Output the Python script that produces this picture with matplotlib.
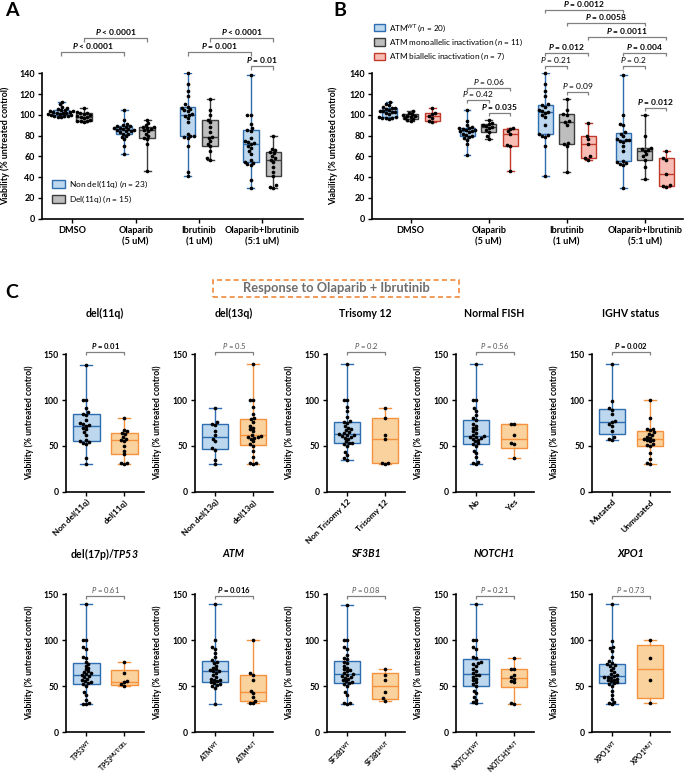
import numpy as np
import matplotlib
matplotlib.use("Agg")
import matplotlib.pyplot as plt
from matplotlib.patches import Patch, Rectangle

plt.rcParams['font.family'] = ['Lato', 'DejaVu Sans']
plt.rcParams['mathtext.fontset'] = 'custom'
plt.rcParams['mathtext.rm'] = 'Lato'
plt.rcParams['mathtext.it'] = 'Lato:italic'
plt.rcParams['mathtext.bf'] = 'Lato:bold'
if 'mathtext.bfit' in plt.rcParams:
    plt.rcParams['mathtext.bfit'] = 'Lato:italic:bold'
BFIT = r'\mathbfit' if 'mathtext.bfit' in plt.rcParams else r'\mathbf'

# ---------------- DATA ----------------
treatments = ['DMSO', 'Olaparib\n(5 uM)', 'Ibrutinib\n(1 uM)', 'Olaparib+Ibrutinib\n(5:1 uM)']

# Panel A: non del(11q) (n=23) and del(11q) (n=15)
a_nondel_dmso = [98, 98, 99, 99, 99, 100, 100, 101, 101, 102, 102, 102, 103, 103, 104, 104, 105, 105, 106, 107, 108, 110, 112]
a_nondel_olap = [62, 70, 77, 79, 80, 82, 82, 83, 84, 84, 85, 85, 86, 86, 87, 87, 88, 89, 89, 90, 91, 95, 105]
a_nondel_ibr = [41, 45, 70, 78, 79, 80, 80, 82, 93, 97, 99, 100, 101, 104, 105, 106, 107, 108, 110, 118, 123, 130, 140]
a_nondel_oi = [30, 37, 52, 53, 54, 55, 57, 62, 65, 68, 70, 72, 73, 74, 75, 78, 84, 85, 87, 91, 100, 100, 138]
a_del_dmso = [93, 94, 94, 94.5, 95, 97, 98, 98, 99, 100, 101, 101.5, 102, 103, 107]
a_del_olap = [46, 72, 77, 78, 80, 82, 84, 85, 86, 87, 88, 88, 90, 92, 95]
a_del_ibr = [57, 58, 65, 70, 72, 75, 78, 79, 83, 88, 93, 95, 100, 105, 115]
a_del_oi = [30, 31, 32, 41, 45, 50, 55, 57, 58, 60, 63, 64, 66, 67, 80]

# Panel B: ATM WT (n=20), monoallelic (n=11), biallelic (n=7)
b_wt_dmso = [96, 97, 97, 97, 98, 98, 101, 102, 103, 103, 104, 104, 105, 106, 107, 107, 108, 109, 110, 112]
b_wt_olap = [61, 72, 76, 78, 79, 80, 81, 82, 83, 84, 84, 85, 85, 86, 87, 87, 88, 90, 94, 105]
b_wt_ibr = [41, 70, 79, 80, 81, 82, 90, 98, 100, 102, 103, 104, 105, 108, 109, 110, 118, 123, 130, 140]
b_wt_oi = [30, 52, 53, 54, 55, 56, 65, 70, 74, 75, 76, 76, 77, 80, 82, 83, 90, 91, 100, 138]
b_mono_dmso = [94, 95, 96, 97, 98, 99, 99, 100, 101, 102, 104]
b_mono_olap = [77, 80, 83, 85, 87, 88, 89, 90, 91, 92, 95]
b_mono_ibr = [45, 70, 72, 73, 90, 93, 94, 100, 101, 105, 115]
b_mono_oi = [38, 50, 57, 60, 62, 65, 66, 67, 68, 80, 100]
b_bi_dmso = [93, 94, 97, 99, 101, 102, 107]
b_bi_olap = [46, 70, 71, 82, 84, 86, 87]
b_bi_ibr = [57, 58, 60, 72, 77, 80, 92]
b_bi_oi = [31, 31.5, 32, 43, 57, 58, 65]

# Panel C: response to Olaparib + Ibrutinib by subgroup
c_del13q_no = [30, 35, 46, 48, 55, 58, 62, 66, 73, 74, 76, 91]
c_del13q_yes = [30, 31, 32, 38, 45, 50, 52, 55, 58, 59, 60, 60, 61, 62, 66, 68, 70, 72, 76, 79, 80, 85, 92, 100, 100, 139]
c_tri12_no = [35, 37, 40, 43, 50, 52, 53, 53.5, 55, 58, 59, 60, 61, 62, 62, 63, 64, 65, 67, 68, 70, 72, 75, 76, 77, 82, 88, 92, 100, 100, 139]
c_tri12_yes = [30, 31, 32, 58, 62, 80, 91]
c_fish_no = [30, 31, 33, 38, 42, 45, 50, 52, 53, 55, 57, 58, 59, 60, 60, 61, 62, 64, 66, 68, 70, 72, 74, 78, 80, 84, 88, 91, 100, 100, 139]
c_fish_yes = [37, 52, 53, 62, 74, 74]
c_ighv_mut = [57, 58, 60, 66, 72, 74, 76, 77, 85, 89, 91, 99, 139]
c_ighv_unmut = [30, 31, 36, 42, 50, 51, 52, 55, 56, 57, 58, 59, 60, 62, 63, 65, 67, 68, 69, 80, 100]
c_tp53_wt = [30, 30, 32, 35, 40, 43, 50, 52, 53, 54, 55, 56, 58, 60, 61, 62, 63, 64, 65, 66, 68, 70, 72, 74, 76, 80, 82, 90, 92, 100, 100, 139]
c_tp53_mut = [50, 52, 54, 55, 64, 76]
c_atm_wt = [30, 48, 50, 51, 52, 53, 54, 55, 56, 57, 58, 60, 62, 64, 66, 66, 67, 68, 70, 72, 75, 76, 78, 82, 86, 90, 92, 100, 139]
c_atm_mut = [31, 32, 34, 38, 42, 45, 57, 62, 64, 100]
c_sf3b1_wt = [30, 31, 32, 40, 43, 50, 52, 53, 54, 55, 56, 58, 59, 60, 61, 62, 63, 64, 66, 67, 68, 70, 72, 75, 76, 79, 80, 84, 90, 92, 100, 100, 138]
c_sf3b1_mut = [34, 37, 43, 57, 62, 69]
c_notch1_wt = [31, 33, 35, 38, 42, 45, 50, 52, 54, 56, 58, 60, 62, 62, 64, 66, 68, 72, 74, 75, 76, 80, 82, 90, 92, 100, 100, 139]
c_notch1_mut = [30, 32, 54, 55, 58, 60, 62, 68, 68, 80]
c_xpo1_wt = [30, 31, 33, 36, 40, 45, 50, 52, 53, 54, 55, 56, 57, 58, 59, 60, 60, 61, 62, 63, 65, 67, 70, 72, 73, 74, 75, 77, 82, 88, 91, 92, 99, 139]
c_xpo1_mut = [31, 57, 80, 100]

c_titles_row1 = ['del(11q)', 'del(13q)', 'Trisomy 12', 'Normal FISH', 'IGHV status']
c_titles_row2 = ['del(17p)/$' + BFIT + '{TP53}$', 'ATM', 'SF3B1', 'NOTCH1', 'XPO1']
c_ticklabels_row1 = [['Non del(11q)', 'del(11q)'], ['Non del(13q)', 'del(13q)'],
                     ['Non Trisomy 12', 'Trisomy 12'], ['No', 'Yes'], ['Mutated', 'Unmutated']]
c_ticklabels_row2 = [[r'TP53$^{\mathbf{WT}}$', r'TP53$^{\mathbf{MUT/DEL}}$'],
                     [r'ATM$^{\mathbf{WT}}$', r'ATM$^{\mathbf{MUT}}$'],
                     [r'SF3B1$^{\mathbf{WT}}$', r'SF3B1$^{\mathbf{MUT}}$'],
                     [r'NOTCH1$^{\mathbf{WT}}$', r'NOTCH1$^{\mathbf{MUT}}$'],
                     [r'XPO1$^{\mathbf{WT}}$', r'XPO1$^{\mathbf{MUT}}$']]
c_pvals_row1 = ['0.01', '0.5', '0.2', '0.56', '0.002']
c_pvals_row2 = ['0.61', '0.016', '0.08', '0.21', '0.73']
c_sig_row1 = [True, False, False, False, True]
c_sig_row2 = [False, True, False, False, False]

# ---------------- STYLE ----------------
W, H = 685, 777
fig = plt.figure(figsize=(W / 100, H / 100), dpi=100)

BLUE_E, BLUE_F = '#2E6DB0', '#BDD7EE'
GRAY_E, GRAY_F = '#3C3C3C', '#BEBEBE'
RED_E, RED_F = '#C0392B', '#F7BDB5'
OR_E, OR_F = '#F5923E', '#FAD29E'
BR_C = '#808080'


def make_ax(left, top, w, h):
    return fig.add_axes([left / W, 1 - (top + h) / H, w / W, h / H])


def style_ax(ax, fs=6.2):
    for s in ['top', 'right']:
        ax.spines[s].set_visible(False)
    for s in ['left', 'bottom']:
        ax.spines[s].set_linewidth(1.2)
    ax.tick_params(axis='both', length=3, width=1.0, labelsize=fs, pad=2)
    for lbl in ax.get_yticklabels():
        lbl.set_fontweight('bold')


def swarm(vals, d, sx, sy):
    y = np.asarray(vals, float) * sy
    order = np.argsort(y, kind='stable')
    px, py = [], []
    out = np.zeros(len(y))
    for i in order:
        yi = y[i]
        cands = [0.0]
        for a, b in zip(px, py):
            dy = abs(yi - b)
            if dy < d:
                dx = np.sqrt(d * d - dy * dy)
                cands += [a + dx, a - dx]
        cands = sorted(cands, key=lambda c: (round(abs(c), 6), c))
        choice = cands[-1]
        for c in cands:
            if all((c - a) ** 2 + (yi - b) ** 2 >= d * d - 1e-6 for a, b in zip(px, py)):
                choice = c
                break
        out[i] = choice
        px.append(choice)
        py.append(yi)
    return out / sx


def draw_group(ax, vals, pos, width, fc, ec, sx, sy, lw=1.0, d=3.4, ms=7):
    q1, med, q3 = np.percentile(vals, [25, 50, 75], method='weibull')
    stats = [dict(med=med, q1=q1, q3=q3, whislo=min(vals), whishi=max(vals), fliers=[])]
    ax.bxp(stats, positions=[pos], widths=width, patch_artist=True, showfliers=False,
           boxprops=dict(facecolor=fc, edgecolor=ec, linewidth=lw),
           medianprops=dict(color=ec, linewidth=lw),
           whiskerprops=dict(color=ec, linewidth=lw),
           capprops=dict(color=ec, linewidth=lw),
           capwidths=width * 0.45, manage_ticks=False)
    offs = swarm(vals, d, sx, sy)
    ax.scatter(pos + offs, vals, s=ms, c='black', linewidths=0, zorder=5, clip_on=False)


def bracket(ax, x1, x2, y, tick, label, bold, fs, tcolor='black'):
    ax.plot([x1, x1, x2, x2], [y - tick, y, y, y - tick], color=BR_C, lw=0.9,
            clip_on=False, solid_capstyle='butt', zorder=6)
    ax.annotate(label, xy=((x1 + x2) / 2, y), xytext=(0, 0.8), textcoords='offset points',
                ha='center', va='bottom', fontsize=fs, color=tcolor,
                fontweight='bold' if bold else 'normal', annotation_clip=False)


def ptxt(op, val, bold):
    if bold:
        return '$' + BFIT + '{P}$ ' + op + ' ' + val
    return r'$\mathit{P}$ ' + op + ' ' + val


YLAB = 'Viability (% untreated control)'

# ---------------- PANEL A ----------------
axA = make_ax(41.7, 73.3, 261.3, 145.4)
axA.set_xlim(-0.487, 3.647)
axA.set_ylim(0, 140)
sxA, syA = 63.2, 145.4 / 140
offA, wA = 0.18, 0.25
for i, (nd, dl) in enumerate(zip([a_nondel_dmso, a_nondel_olap, a_nondel_ibr, a_nondel_oi],
                                 [a_del_dmso, a_del_olap, a_del_ibr, a_del_oi])):
    draw_group(axA, nd, i - offA, wA, BLUE_F, BLUE_E, sxA, syA)
    draw_group(axA, dl, i + offA, wA, GRAY_F, GRAY_E, sxA, syA)
axA.set_xticks(range(4))
axA.set_xticklabels(treatments, fontsize=6.6, fontweight='bold', linespacing=1.45)
axA.set_yticks(range(0, 141, 20))
style_ax(axA, 6.4)
axA.tick_params(axis='x', labelsize=6.6)
axA.set_ylabel(YLAB, fontsize=6.4, fontweight='bold')
axA.yaxis.set_label_coords(-0.122, 0.5)
for x1, x2, y, op, v in [(0 + offA, 1 + offA, 174, '<', '0.0001'),
                         (0 - offA, 1 - offA, 160.5, '<', '0.0001'),
                         (2 - offA, 3 - offA, 160.5, '=', '0.001'),
                         (2 + offA, 3 + offA, 174, '<', '0.0001'),
                         (3 - offA, 3 + offA, 147, '=', '0.01')]:
    bracket(axA, x1, x2, y, 3.5, ptxt(op, v, True), True, 6.0)
legA = axA.legend(handles=[Patch(facecolor=BLUE_F, edgecolor=BLUE_E, lw=1.0),
                           Patch(facecolor=GRAY_F, edgecolor=GRAY_E, lw=1.0)],
                  labels=[r'Non del(11q) ($\mathit{n}$ = 23)', r'Del(11q) ($\mathit{n}$ = 15)'],
                  loc='upper left', bbox_to_anchor=(0.04, 0.275), frameon=False,
                  prop={'size': 6.0, 'weight': 'normal'}, handlelength=1.6, handleheight=1.1,
                  handletextpad=0.45, labelspacing=0.4, borderpad=0, borderaxespad=0)

# ---------------- PANEL B ----------------
axB = make_ax(371.7, 73.3, 311.3, 145.4)
axB.set_xlim(-0.499, 3.49)
axB.set_ylim(0, 140)
sxB, syB = 78.0, 145.4 / 140
offB, wB = 0.276, 0.19
groupsB = [(b_wt_dmso, b_mono_dmso, b_bi_dmso), (b_wt_olap, b_mono_olap, b_bi_olap),
           (b_wt_ibr, b_mono_ibr, b_bi_ibr), (b_wt_oi, b_mono_oi, b_bi_oi)]
for i, (wt, mo, bi) in enumerate(groupsB):
    draw_group(axB, wt, i - offB, wB, BLUE_F, BLUE_E, sxB, syB)
    draw_group(axB, mo, i, wB, GRAY_F, GRAY_E, sxB, syB)
    draw_group(axB, bi, i + offB, wB, RED_F, RED_E, sxB, syB)
axB.set_xticks(range(4))
axB.set_xticklabels(treatments, fontsize=6.6, fontweight='bold', linespacing=1.45)
axB.set_yticks(range(0, 141, 20))
style_ax(axB, 6.4)
axB.tick_params(axis='x', labelsize=6.6)
axB.set_ylabel(YLAB, fontsize=6.4, fontweight='bold')
axB.yaxis.set_label_coords(-0.108, 0.5)
for x1, x2, y, v, b in [(2 - offB, 3 - offB, 201.0, '0.0012', True),
                        (2, 3, 188.2, '0.0058', True),
                        (2 + offB, 3 + offB, 175.2, '0.0011', True),
                        (2 - offB, 2 + offB, 159.2, '0.012', True),
                        (3 - offB, 3 + offB, 159.2, '0.004', True),
                        (2 - offB, 2, 147.3, '0.21', False),
                        (3 - offB, 3, 147.3, '0.2', False),
                        (1 - offB, 1 + offB, 126, '0.06', False),
                        (1 - offB, 1, 114.3, '0.42', False),
                        (1, 1 + offB, 101.5, '0.035', True),
                        (2, 2 + offB, 121.7, '0.09', False),
                        (3, 3 + offB, 106.3, '0.012', True)]:
    bracket(axB, x1, x2, y, 3, ptxt('=', v, b), b, 6.0)
legB = axB.legend(handles=[Patch(facecolor=BLUE_F, edgecolor=BLUE_E, lw=1.0),
                           Patch(facecolor=GRAY_F, edgecolor=GRAY_E, lw=1.0),
                           Patch(facecolor=RED_F, edgecolor=RED_E, lw=1.0)],
                  labels=[r'ATM$^{WT}$ ($\mathit{n}$ = 20)',
                          r'ATM monoallelic inactivation ($\mathit{n}$ = 11)',
                          r'ATM biallelic inactivation ($\mathit{n}$ = 7)'],
                  loc='upper left', bbox_to_anchor=(0.008, 1.35), frameon=False,
                  prop={'size': 5.9, 'weight': 'normal'}, handlelength=1.3, handleheight=1.0,
                  handletextpad=0.45, labelspacing=0.38, borderpad=0, borderaxespad=0)

# ---------------- PANEL C ----------------
fig.add_artist(Rectangle((213 / W, 1 - 297 / H), 246 / W, 17 / H, transform=fig.transFigure,
                         facecolor='white', edgecolor='#F0883A', lw=1.2, ls=(0, (3, 2))))
fig.text(336 / W, 1 - 288.5 / H, 'Response to Olaparib + Ibrutinib', ha='center', va='center',
         fontsize=9.3, fontweight='bold', color='#6E6E6E')

lefts = [65.7, 194.5, 326.5, 455.5, 591.5]
cw = 78
sxC = 38.0
xlC = (-20.5 / 38, (cw - 20.5) / 38)
row1 = [(a_nondel_oi, a_del_oi), (c_del13q_no, c_del13q_yes), (c_tri12_no, c_tri12_yes),
        (c_fish_no, c_fish_yes), (c_ighv_mut, c_ighv_unmut)]
row2 = [(c_tp53_wt, c_tp53_mut), (c_atm_wt, c_atm_mut), (c_sf3b1_wt, c_sf3b1_mut),
        (c_notch1_wt, c_notch1_mut), (c_xpo1_wt, c_xpo1_mut)]
rows = [(row1, 354, 138, c_titles_row1, c_ticklabels_row1, c_pvals_row1, c_sig_row1, 152, 1.295, 6.0),
        (row2, 594, 138, c_titles_row2, c_ticklabels_row2, c_pvals_row2, c_sig_row2, 148, 1.29, 4.9)]
for r, (groups, top, hh, titles, tls, pv, sig, by, ty, tfs) in enumerate(rows):
    for k in range(5):
        ax = make_ax(lefts[k], top, cw, hh)
        ax.set_xlim(*xlC)
        ax.set_ylim(0, 150)
        syC = hh / 150
        g1, g2 = groups[k]
        draw_group(ax, g1, 0, 0.7, BLUE_F, BLUE_E, sxC, syC)
        draw_group(ax, g2, 1, 0.7, OR_F, OR_E, sxC, syC)
        ax.set_yticks([0, 50, 100, 150])
        ax.set_xticks([0, 1])
        ax.set_xticklabels(tls[k], rotation=45, ha='right', rotation_mode='anchor',
                           fontsize=tfs, fontweight='bold')
        style_ax(ax, 6.2)
        ax.tick_params(axis='x', labelsize=tfs, pad=1.5)
        ax.set_ylabel(YLAB, fontsize=6.2, fontweight='bold')
        ax.yaxis.set_label_coords(-0.41, 0.5)
        bracket(ax, 0, 1, by, 3, ptxt('=', pv[k], sig[k]), sig[k], 5.5,
                tcolor='black' if sig[k] else '#555555')
        ital = (r == 1 and k > 0)
        ax.text(0.5, ty, titles[k], transform=ax.transAxes, ha='center', va='center',
                fontsize=7.6, fontweight='bold', fontstyle='italic' if ital else 'normal')

fig.text(5 / W, 1 - 10 / H, 'A', fontsize=14, fontweight='bold', va='center', ha='left')
fig.text(333 / W, 1 - 10 / H, 'B', fontsize=14, fontweight='bold', va='center', ha='left')
fig.text(5 / W, 1 - 292 / H, 'C', fontsize=14, fontweight='bold', va='center', ha='left')

fig.savefig('out.png', dpi=100)
